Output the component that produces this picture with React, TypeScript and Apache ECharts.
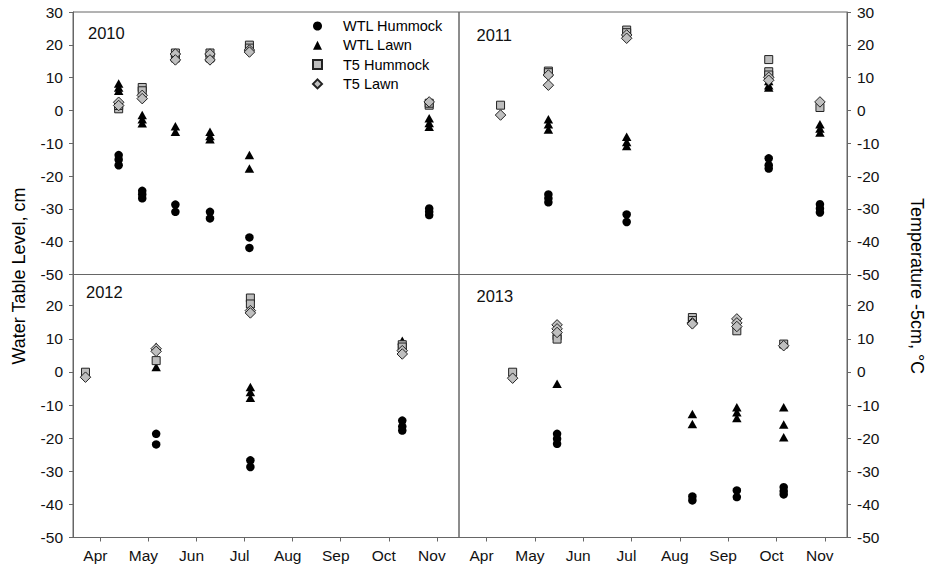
import React, { useEffect, useRef } from 'react';
import * as echarts from 'echarts';

// ---- tick labels ----
const MONTHS = ['Apr', 'May', 'Jun', 'Jul', 'Aug', 'Sep', 'Oct', 'Nov'];
const MONTH_TICKS = [4, 5, 6, 7, 8, 9, 10, 11]; // mid-month positions (month number)
const Y_TICKS_TOP = [-50, -40, -30, -20, -10, 0, 10, 20, 30];
const Y_TICKS_BOTTOM = [-50, -40, -30, -20, -10, 0, 10, 20];
const YEARS = ['2010', '2011', '2012', '2013'];
const SERIES_NAMES = ['WTL Hummock', 'WTL Lawn', 'T5 Hummock', 'T5 Lawn'];

// ---- data: [month position, value] ----
const wtlHummock2010 = [[4.38, -13.6], [4.38, -15], [4.38, -16.7], [4.87, -24.5], [4.87, -25.6], [4.87, -26.8], [5.56, -28.7], [5.56, -30.9], [6.28, -30.9], [6.28, -32.9], [7.1, -38.7], [7.1, -41.9], [10.84, -29.9], [10.84, -30.9], [10.84, -31.9]];
const wtlLawn2010 = [[4.38, 8.2], [4.38, 7], [4.38, 6], [4.87, -1.4], [4.87, -2.7], [4.87, -3.9], [5.56, -4.8], [5.56, -6.5], [6.28, -6.5], [6.28, -7.8], [6.28, -8.8], [7.1, -13.6], [7.1, -17.7], [10.84, -2.4], [10.84, -3.8], [10.84, -5]];
const t5Hummock2010 = [[4.38, 0.5], [4.38, 1.5], [4.87, 7], [4.87, 6], [5.56, 17.5], [5.56, 16], [6.28, 17.5], [6.28, 16], [7.1, 19.9], [7.1, 19], [10.84, 1.6], [10.84, 2.2]];
const t5Lawn2010 = [[4.38, 2.5], [4.38, 1.5], [4.87, 4.6], [4.87, 3.6], [5.56, 17.2], [5.56, 15.4], [6.28, 17.2], [6.28, 15.4], [7.1, 18.4], [7.1, 17.8], [10.84, 2.6]];

const wtlHummock2011 = [[5.28, -25.6], [5.28, -26.8], [5.28, -28], [6.9, -31.7], [6.9, -34], [9.84, -14.6], [9.84, -16.7], [9.84, -17.7], [10.9, -28.6], [10.9, -29.9], [10.9, -31.1]];
const wtlLawn2011 = [[5.28, -2.7], [5.28, -4.2], [5.28, -5.8], [6.9, -8], [6.9, -9.6], [6.9, -10.8], [9.84, 9], [9.84, 7.7], [9.84, 7], [10.9, -4.2], [10.9, -5.5], [10.9, -6.7]];
const t5Hummock2011 = [[4.29, 1.6], [5.28, 12], [5.28, 11.5], [6.9, 24.5], [6.9, 23.7], [9.84, 15.5], [9.84, 11.8], [9.84, 10.8], [10.9, 0.9]];
const t5Lawn2011 = [[4.29, -1.4], [5.28, 10.8], [5.28, 7.7], [6.9, 23], [6.9, 22], [9.84, 10.1], [9.84, 9.2], [10.9, 2.6]];

const wtlHummock2012 = [[5.16, -18.7], [5.16, -21.9], [7.12, -26.7], [7.12, -28.7], [10.28, -14.7], [10.28, -16.5], [10.28, -17.7]];
const wtlLawn2012 = [[5.16, 7.6], [5.16, 1.5], [7.12, -4.6], [7.12, -6.1], [7.12, -7.8], [10.28, 9.4], [10.28, 7.9]];
const t5Hummock2012 = [[3.69, -0.1], [5.16, 3.4], [7.12, 22.3], [7.12, 20.5], [10.28, 8.2], [10.28, 7.5]];
const t5Lawn2012 = [[3.69, -1.6], [5.16, 7], [5.16, 6.2], [7.12, 18.5], [7.12, 17.8], [10.28, 6.4], [10.28, 5.4]];

const wtlHummock2013 = [[5.46, -18.7], [5.46, -20.2], [5.46, -21.7], [8.26, -37.6], [8.26, -38.8], [9.18, -35.8], [9.18, -37.8], [10.15, -34.8], [10.15, -36], [10.15, -37]];
const wtlLawn2013 = [[5.46, -3.6], [8.26, -12.7], [8.26, -15.7], [9.18, -10.7], [9.18, -12.2], [9.18, -13.9], [10.15, -10.7], [10.15, -15.9], [10.15, -19.7]];
const t5Hummock2013 = [[4.54, -0.1], [5.46, 10.9], [5.46, 9.9], [8.26, 16.4], [8.26, 15.5], [9.18, 12.4], [10.15, 8.4]];
const t5Lawn2013 = [[4.54, -1.9], [5.46, 14.2], [5.46, 13], [5.46, 11.9], [8.26, 14.8], [8.26, 14.5], [9.18, 16], [9.18, 14.8], [9.18, 13.7], [10.15, 7.9]];

const PANEL_DATA = [
  [wtlHummock2010, wtlLawn2010, t5Hummock2010, t5Lawn2010],
  [wtlHummock2011, wtlLawn2011, t5Hummock2011, t5Lawn2011],
  [wtlHummock2012, wtlLawn2012, t5Hummock2012, t5Lawn2012],
  [wtlHummock2013, wtlLawn2013, t5Hummock2013, t5Lawn2013],
];

const FONT = '"Liberation Sans", Arial, Helvetica, sans-serif';
const AXIS_COLOR = '#666';

const SERIES_STYLE: any[] = [
  { symbol: 'circle', symbolSize: 8.5, itemStyle: { color: '#000', opacity: 1 } },
  { symbol: 'triangle', symbolSize: [9.5, 8.5], itemStyle: { color: '#000', opacity: 1 } },
  { symbol: 'rect', symbolSize: 8, itemStyle: { color: '#bdbdbd', borderColor: '#222', borderWidth: 1, opacity: 1 } },
  { symbol: 'diamond', symbolSize: [10.5, 10.5], itemStyle: { color: '#bfbfbf', borderColor: '#222', borderWidth: 1, opacity: 1 } },
];

const GRIDS = [
  { left: 73, top: 12, width: 386, height: 262.5 },
  { left: 459, top: 12, width: 388, height: 262.5 },
  { left: 73, top: 274.5, width: 386, height: 263 },
  { left: 459, top: 274.5, width: 388, height: 263 },
];

function buildOption() {
  const grid = GRIDS.map((g) => ({ ...g, show: true, borderColor: AXIS_COLOR, borderWidth: 1, backgroundColor: 'transparent' }));

  const xAxis = GRIDS.map((_, i) => {
    const bottom = i >= 2;
    return {
      type: 'value',
      gridIndex: i,
      min: 3.43,
      max: 11.46,
      splitLine: { show: false },
      axisLine: { show: true, onZero: false, lineStyle: { color: AXIS_COLOR } },
      axisTick: bottom
        ? { show: true, customValues: MONTH_TICKS, length: 4, inside: false, lineStyle: { color: AXIS_COLOR } }
        : { show: false },
      axisLabel: bottom
        ? {
            show: true,
            customValues: MONTH_TICKS,
            formatter: (v: number) => MONTHS[Math.round(v) - 4] || '',
            fontSize: 15.5,
            fontFamily: FONT,
            color: '#111',
            margin: 10,
            padding: [0, 10, 0, 0],
          }
        : { show: false },
    };
  });

  const yAxis = GRIDS.map((_, i) => {
    const top = i < 2;
    const right = i % 2 === 1;
    const ticks = top ? Y_TICKS_TOP : Y_TICKS_BOTTOM;
    return {
      type: 'value',
      gridIndex: i,
      position: right ? 'right' : 'left',
      min: -50,
      max: top ? 30 : 29.4,
      interval: 10,
      splitLine: { show: false },
      axisLine: { show: true, onZero: false, lineStyle: { color: AXIS_COLOR } },
      axisTick: { show: true, customValues: ticks, length: 4, inside: false, lineStyle: { color: AXIS_COLOR } },
      axisLabel: {
        show: true,
        customValues: ticks,
        fontSize: 15.5,
        fontFamily: FONT,
        color: '#111',
        margin: right ? 10 : 10,
      },
    };
  });

  const series: any[] = [];
  PANEL_DATA.forEach((sets, i) => {
    sets.forEach((data, k) => {
      series.push({
        type: 'scatter',
        name: SERIES_NAMES[k],
        xAxisIndex: i,
        yAxisIndex: i,
        data,
        ...SERIES_STYLE[k],
        emphasis: { disabled: true },
      });
    });
  });

  const yearPos = [
    { x: 88, y: 33 },
    { x: 476.5, y: 35 },
    { x: 86, y: 292 },
    { x: 476.5, y: 296 },
  ];

  const graphic: any[] = YEARS.map((yr, i) => ({
    type: 'text',
    x: yearPos[i].x,
    y: yearPos[i].y,
    silent: true,
    style: { text: yr, fontSize: 16.5, fontFamily: FONT, fill: '#111', align: 'left', verticalAlign: 'middle' },
  }));
  graphic.push({
    type: 'text',
    x: 19,
    y: 276,
    rotation: Math.PI / 2,
    silent: true,
    style: { text: 'Water Table Level, cm', fontSize: 18, fontFamily: FONT, fill: '#000', align: 'center', verticalAlign: 'middle' },
  });
  graphic.push({
    type: 'text',
    x: 917,
    y: 286,
    rotation: -Math.PI / 2,
    silent: true,
    style: { text: 'Temperature -5cm, °C', fontSize: 18, fontFamily: FONT, fill: '#000', align: 'center', verticalAlign: 'middle' },
  });

  return {
    animation: false,
    textStyle: { fontFamily: FONT },
    grid,
    xAxis,
    yAxis,
    legend: {
      orient: 'vertical',
      left: 312,
      top: 18,
      padding: 0,
      itemGap: 3.3,
      itemWidth: 9,
      itemHeight: 9,
      selectedMode: false,
      data: SERIES_NAMES,
      textStyle: { fontSize: 14.5, fontFamily: FONT, color: '#000', lineHeight: 16, padding: [0, 0, 0, 16] },
    },
    graphic,
    series,
  };
}

export default function App() {
  const ref = useRef<HTMLDivElement>(null);
  useEffect(() => {
    if (!ref.current) return;
    const chart = echarts.init(ref.current, undefined, { renderer: 'svg' });
    chart.setOption(buildOption() as any);
    return () => chart.dispose();
  }, []);
  return <div ref={ref} style={{ position: 'fixed', left: 0, top: 0, width: 931, height: 573, background: '#fff' }} />;
}
